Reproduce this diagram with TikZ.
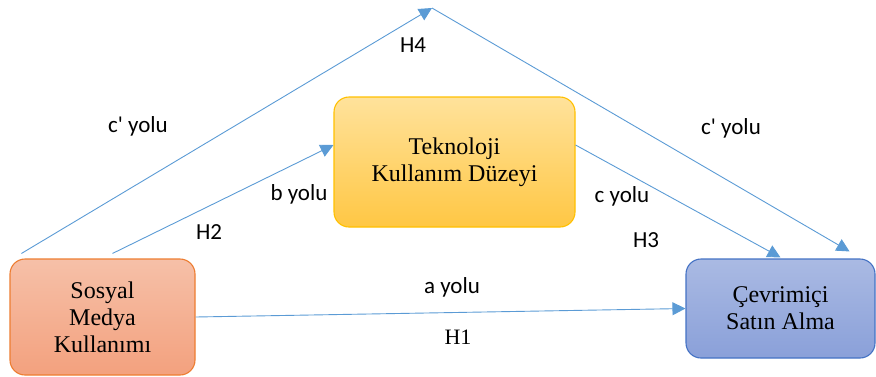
\documentclass[tikz,border=0pt]{standalone}
\usepackage{fontspec}
\setmainfont{Liberation Serif}
\newfontfamily\labelfont{Carlito}
\usetikzlibrary{arrows.meta}

\definecolor{linkblue}{HTML}{5B9BD5}
\definecolor{orangeedge}{HTML}{ED7D31}
\definecolor{orangetop}{HTML}{F6C0A8}
\definecolor{orangebot}{HTML}{F3A17E}
\definecolor{yellowedge}{HTML}{FFC000}
\definecolor{yellowtop}{HTML}{FFE29B}
\definecolor{yellowbot}{HTML}{FFC744}
\definecolor{blueedge}{HTML}{4472C4}
\definecolor{bluetop}{HTML}{AABAE3}
\definecolor{bluebot}{HTML}{8AA0D9}

\tikzset{
  varbox/.style={rounded corners=15pt, line width=1.1pt, align=center,
    font=\fontsize{24}{27}\selectfont, inner sep=0pt},
  path/.style={draw=linkblue, line width=0.9pt},
  pathtip/.style={path, -{Triangle[length=13pt,width=13pt]}},
  pathlabel/.style={font=\labelfont\fontsize{23}{25}\selectfont, inner sep=0pt},
}

\begin{document}
\begin{tikzpicture}[x=1pt, y=-1pt]
	\useasboundingbox (0,0) rectangle (876,376);

	\node[varbox, draw=orangeedge, top color=orangetop, bottom color=orangebot,
		minimum width=185pt, minimum height=116pt] at (102.5,317) (sosyal) {Sosyal\\Medya\\Kullanımı};
	\node[varbox, draw=yellowedge, top color=yellowtop, bottom color=yellowbot,
		minimum width=241pt, minimum height=130pt] at (454.5,162) (teknoloji) {Teknoloji\\Kullanım Düzeyi};
	\node[varbox, draw=blueedge, top color=bluetop, bottom color=bluebot,
		minimum width=189pt, minimum height=99pt] at (780.5,308.5) (cevrim) {Çevrimiçi\\Satın Alma};

	\coordinate (apex) at (432,8);

	% paths
	\draw[pathtip] (sosyal.east) -- (cevrim.west);
	\draw[pathtip] ([xshift=10pt,yshift=5pt]sosyal.north) -- ([yshift=17pt]teknoloji.west);
	\draw[pathtip] ([yshift=17pt]teknoloji.east) -- ([yshift=1pt]cevrim.north);
	\draw[pathtip] ([xshift=12pt,yshift=5pt]sosyal.north west) -- (apex);
	\draw[pathtip] (apex) -- ([xshift=-26pt,yshift=7pt]cevrim.north east);

	% labels
	\node[pathlabel] at (138,126) (cleft) {c\textquotesingle\ yolu};
	\node[pathlabel] at (731,128) (cright) {c\textquotesingle\ yolu};
	\node[pathlabel] at (413,45) (h4) {H4};
	\node[pathlabel] at (299,194) (byolu) {b yolu};
	\node[pathlabel] at (209,232) (h2) {H2};
	\node[pathlabel] at (622,196) (cyolu) {c yolu};
	\node[pathlabel] at (646,240) (h3) {H3};
	\node[pathlabel] at (452,287) (ayolu) {a yolu};
	\node[font=\fontsize{22}{24}\selectfont, inner sep=0pt] at (458,337) (h1) {H1};
\end{tikzpicture}
\end{document}
